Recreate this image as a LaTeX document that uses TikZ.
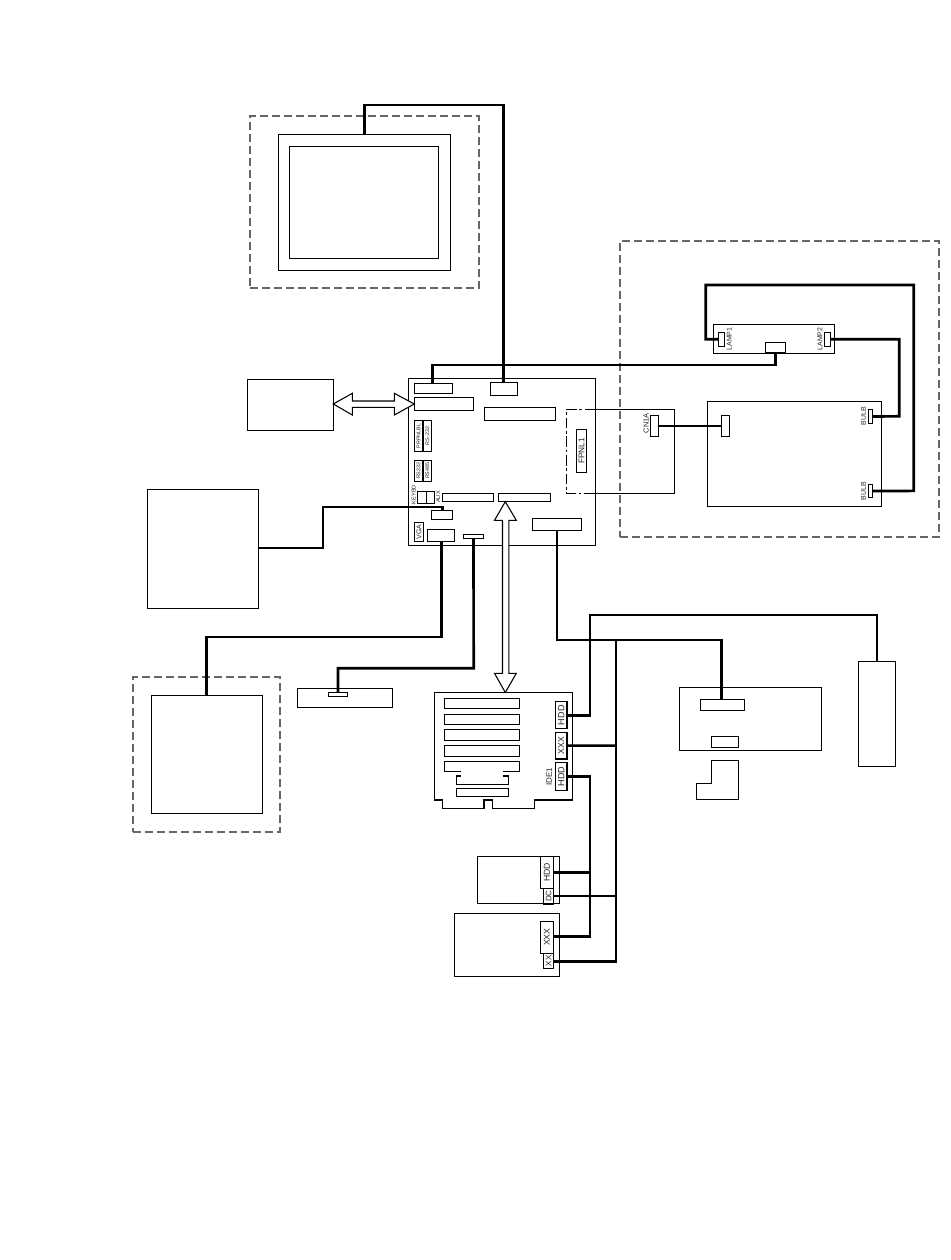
\documentclass[tikz,border=0pt]{standalone}
\usepackage{fontspec}
\setmainfont{Liberation Sans}
\usetikzlibrary{calc}
\tikzset{
  x=0.75pt,y=-0.75pt,
  thinline/.style={line width=0.8pt,black},
  cable/.style={line width=2pt,black,line join=miter},
  gdash/.style={line width=0.8pt,draw=black!60,dash pattern=on 6pt off 3pt},
  boxstyle/.style={draw=black,line width=0.8pt,inner sep=0pt,outer sep=0pt,fill=white},
  lbl/.style={inner sep=0pt,rotate=90,font=\fontsize{#1}{#1}\selectfont,text=black!85},
  lbl/.default=5
}
\newcommand{\bx}[6][]{\node[boxstyle,minimum width={(#4-#2)*0.75pt},minimum height={(#5-#3)*0.75pt},#1] (#6) at ({(#2+#4)/2},{(#3+#5)/2}) {};}
\newcommand{\bxt}[8][]{\node[boxstyle,rotate=90,minimum height={(#4-#2)*0.75pt},minimum width={(#5-#3)*0.75pt},font=\fontsize{#7}{#7}\selectfont,text=black!85,#1] (#6) at ({(#2+#4)/2},{(#3+#5)/2}) {#8};}
\newcommand{\tx}[5]{\node[lbl=#4] (#1) at (#2,#3) {#5};}
\begin{document}
\begin{tikzpicture}
\useasboundingbox (0,0) rectangle (950,1260);
\fill[white] (0,0) rectangle (950,1260);

% dashed enclosures
\node[gdash,inner sep=0,outer sep=0,minimum width={229*0.75pt},minimum height={172*0.75pt}] (encTop) at (364.5,202) {};
\node[gdash,inner sep=0,outer sep=0,minimum width={319*0.75pt},minimum height={296*0.75pt}] (encRight) at (779.5,389) {};
\node[gdash,inner sep=0,outer sep=0,minimum width={147*0.75pt},minimum height={155*0.75pt}] (encLeft) at (206.5,754.5) {};

% monitor
\bx{278.3}{134.3}{450.3}{270.3}{monOuter}
\bx{289.3}{146.3}{438.3}{258.3}{monInner}
% left boxes
\bx{247.3}{379.3}{333.3}{430.3}{leftA}
\bx{147.3}{489.3}{258.5}{608.3}{leftB}
\bx{151.3}{695.3}{262.5}{813.3}{leftC}
\bx{297.3}{688.3}{392.7}{707.7}{smallBar}
\bx{328.3}{692.3}{347.7}{696.7}{smallConn}

% main board
\bx{408.3}{378.7}{595.3}{545.3}{board}
\bx{414.3}{383.3}{452.7}{393.3}{pA}
\bx{490.3}{382.3}{517.3}{395.3}{pB}
\bx{414.3}{397.7}{473.3}{410.3}{pC}
\bx{484.3}{407.3}{555.3}{420.3}{pD}
\bxt{414.3}{420.7}{423}{451.3}{prn}{4}{PRPNLBL}
\bxt{423}{420.7}{431.7}{451.3}{rsa}{4}{RS-232}
\bxt{414.3}{460.3}{423}{481.3}{rsb}{4}{RS232}
\bxt{423}{460.3}{431.7}{481.3}{rsc}{4}{RS485}
\bx{417.3}{491.3}{426.7}{503.3}{keyb}
\bx{426.7}{491.3}{434.7}{503.3}{aux}
\tx{lkeyb}{413.7}{494.5}{4.2}{KEYBD}
\tx{laux}{438.3}{497}{4.2}{AUX}
\bx{442.3}{493.3}{493.7}{501.3}{pE}
\bx{498.3}{493.3}{550.3}{501.3}{pF}
\bx{431.3}{510.3}{452.3}{519.3}{pG}
\bxt{414.3}{522.7}{423.7}{541.3}{vga}{5.2}{VGA}
\bx{427.3}{529.3}{454.3}{541.3}{pH}
\bx{463.3}{534.3}{483.7}{538.3}{pI}
\bx{532.3}{518.7}{581.7}{530.7}{pJ}

% front-panel board
\coordinate (fpTR) at (595.3,409.3);
\coordinate (fpBR) at (595.3,493.3);
\draw[thinline,dash pattern=on 8pt off 2pt on 2pt off 2pt] (fpTR) -- (566.3,409.3) -- (566.3,493.3) -- (fpBR);
\draw[thinline] (fpTR) -- (674.3,409.3) -- (674.3,493.3) -- (fpBR);
\bxt{576.3}{429.3}{586.7}{472.3}{fpnl}{6.2}{FPNL1}
\bx{650.3}{415.3}{658.7}{436.7}{cn}
\tx{lcn}{646}{423.5}{5.5}{CN1A}

% lamp section
\bx{713.3}{324.3}{834.3}{353.3}{lampBoard}
\bx{718.3}{332.3}{724.3}{346.3}{lamp1}
\bx{824.3}{332.3}{830.7}{346.3}{lamp2}
\bx{765.3}{342.3}{785.7}{352.3}{lampC}
\tx{llamp1}{729.3}{339}{5.2}{LAMP1}
\tx{llamp2}{820}{339}{5.2}{LAMP2}
\bx{707.3}{401.7}{881.7}{506.7}{ballast}
\bx{721.3}{415.3}{729.7}{436.7}{ballC}
\bx{868.3}{409.3}{872.7}{423.7}{bulb1}
\bx{868.3}{484.3}{872.7}{497.7}{bulb2}
\tx{lb1}{863.5}{416.3}{5.2}{BULB}
\tx{lb2}{863.5}{491}{5.2}{BULB}

% riser card
\draw[thinline,fill=white] (434.3,692.7) -- (572.7,692.7) -- (572.7,800) -- (534.3,800) -- (534.3,808.3) -- (492.3,808.3) -- (492.3,800) -- (484,800) -- (484,808.3) -- (442.7,808.3) -- (442.7,800) -- (434.3,800) -- cycle;
\bx{444.3}{698.7}{519.3}{708.3}{s1}
\bx{444.3}{714.7}{519.3}{724.3}{s2}
\bx{444.3}{729.7}{519.3}{740.3}{s3}
\bx{444.3}{745.3}{519.3}{756.3}{s4}
\draw[thinline] (460.7,771.7) -- (444.3,771.7) -- (444.3,761.7) -- (519.3,761.7) -- (519.3,771.7) -- (502.7,771.7);
\draw[thinline] (460.7,776) -- (456.3,776) -- (456.3,784.7) -- (508.7,784.7) -- (508.7,776) -- (502.7,776);
\bx{456.3}{788.3}{508.7}{796.7}{s7}
\bxt{555.3}{701.7}{567}{728.7}{rHdd}{6.8}{HDD}
\bxt{555.3}{732.3}{567}{759}{rXxx}{6.5}{XXX}
\bxt{555.3}{762.7}{567}{790.3}{rIde}{6.8}{HDD}
\tx{lide}{549}{776.7}{6}{IDE1}

% drives
\bx{477.3}{856.3}{559.3}{903.3}{drive}
\bxt{540.3}{856.3}{553.7}{888.3}{dHdd}{6.5}{HDD}
\bxt{543.7}{888.3}{553.7}{904}{dDc}{6}{DC}
\bx{454.3}{913.3}{559.3}{976.3}{cd}
\bxt{540.3}{921.3}{553.7}{953.3}{cXxx}{6.5}{XXX}
\bxt{543.7}{953.3}{553.7}{968.3}{cXx}{6}{XX}

% right devices
\bx{679.3}{687.3}{821.3}{750.3}{psu}
\bx{700.3}{699.3}{744.7}{710.7}{psuA}
\bx{711.3}{736.3}{738.7}{747.7}{psuB}
\draw[thinline] (711.3,760.3) -- (738.7,760.3) -- (738.7,799.3) -- (696.3,799.3) -- (696.3,783.7) -- (711.3,783.7) -- cycle;
\bx{858.3}{661.3}{895.7}{766.7}{tall}

% cables
\draw[cable] (monOuter.north) -- (364.3,105) -| (pB.north -| 503.5,0);
\draw[cable] (lampC.south) |- (432.7,365) -- (432.7,383.3);
\draw[cable] (lamp2.east) -| (899.3,416.3) -- (bulb1.east);
\draw[cable] (lamp1.west) -| (705.7,285) -| (913.7,490.9) -- (bulb2.east);
\draw[cable] (cn.east) -- (ballC.west);
\draw[cable] (258.5,548) -| (323,507) -| (442.7,510.3);
\draw[cable] (206.5,695.3) |- (441.3,637) -- (441.3,541.3);
\draw[cable] (338,692.3) |- (473.7,668.3) -- (pI.south);
\draw[cable] (pJ.south) |- (721.7,640) -- (721.7,699.3);
\draw[cable] (rHdd.south) -| (590,615) -| (tall.north);
\draw[cable] (rIde.south) -| (590,936.7) -- (553.7,936.7);
\draw[cable] (616,640) -- (616,961.3) -- (553.7,961.3);
\draw[cable] (rXxx.south) -- (616,745.6);
\draw[cable] (553.7,872.3) -- (590,872.3);
\draw[cable] (553.7,896) -- (616,896);

% double arrows
\draw[thinline,fill=white] (505.3,501.7) -- (516.3,520.3) -- (508.8,520.3) -- (508.8,673.3) -- (516.3,673.3) -- (505.3,692.5) -- (494.5,673.3) -- (502.5,673.3) -- (502.5,520.3) -- (494.5,520.3) -- cycle;
\draw[thinline,fill=white] (333.3,404) -- (352.3,393.3) -- (352.3,401) -- (394.3,401) -- (394.3,393.3) -- (414.3,404) -- (394.3,415) -- (394.3,407.3) -- (352.3,407.3) -- (352.3,415) -- cycle;
\end{tikzpicture}
\end{document}
